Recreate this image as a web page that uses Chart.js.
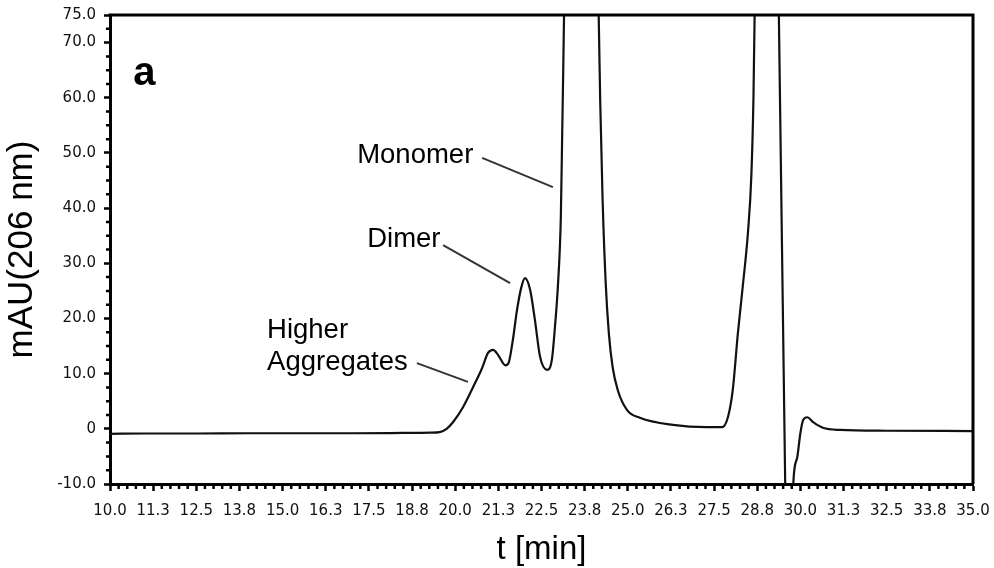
<!DOCTYPE html>
<html>
<head>
<meta charset="utf-8">
<script src="https://cdn.jsdelivr.net/npm/chart.js@4.4.0/dist/chart.umd.min.js"></script>
<style>
html,body{margin:0;padding:0;background:#fff;}
#wrap{width:994px;height:568px;position:relative;}
</style>
</head>
<body>
<div id="wrap"><canvas id="c" width="994" height="568"></canvas></div>
<script>
// ---- data ----
const timeMin = [
  10.0, 11.0, 12.5, 14.0, 15.5, 17.0, 18.5, 19.3, 19.55, 19.75,
  19.94, 20.23, 20.52, 20.78, 20.95, 21.10, 21.24, 21.46, 21.55, 21.67,
  21.79, 21.91, 22.02, 22.17, 22.31, 22.46, 22.66, 22.80, 22.89, 22.98,
  23.06, 23.10, 23.20, 23.60, 24.10, 24.20, 24.27, 24.36, 24.45, 24.56,
  24.71, 24.98, 25.35, 26.31, 27.29, 27.73, 27.90, 28.04, 28.19, 28.34,
  28.48, 28.58, 28.64, 28.72, 29.05, 29.30, 29.56, 29.66, 29.80, 29.91,
  30.00, 30.08, 30.20, 30.37, 30.65, 31.15, 32.5, 35.0
];
const mAU = [
  -0.9, -0.85, -0.85, -0.8, -0.8, -0.8, -0.75, -0.7, -0.6, 0.0,
  1.24, 3.96, 7.58, 11.03, 13.75, 14.3, 13.4, 11.5, 12.0, 16.1,
  21.5, 25.5, 27.3, 25.2, 19.7, 13.0, 10.7, 12.5, 18.5, 26.4,
  38.4, 53.6, 95, 350, 95, 59.6, 41.5, 26.4, 17.4, 11.2,
  7.0, 3.4, 2.0, 0.7, 0.3, 0.3, 2.1, 7.0, 17.4, 26.4,
  35.5, 46.0, 60.0, 95, 300, 110, -10, -40, -9.3, -5.1,
  -0.75, 1.6, 2.1, 1.2, 0.2, -0.2, -0.35, -0.4
];
const xTickValues = [10, 11.25, 12.5, 13.75, 15, 16.25, 17.5, 18.75, 20, 21.25, 22.5,
  23.75, 25, 26.25, 27.5, 28.75, 30, 31.25, 32.5, 33.75, 35];
const xTickLabels = ['10.0','11.3','12.5','13.8','15.0','16.3','17.5','18.8','20.0','21.3','22.5',
  '23.8','25.0','26.3','27.5','28.8','30.0','31.3','32.5','33.8','35.0'];
const yTickValues = [-10, 0, 10, 20, 30, 40, 50, 60, 70, 75];
const yTickLabels = ['-10.0','0','10.0','20.0','30.0','40.0','50.0','60.0','70.0','75.0'];
const peakNames = ['Monomer', 'Dimer', 'Higher', 'Aggregates'];
const panelLetter = 'a';

// annotation placement (in data units)
const notes = [
  {text: peakNames[0], t: 17.16, v: 48.2},
  {text: peakNames[1], t: 17.45, v: 33.0},
  {text: peakNames[2], t: 14.55, v: 16.5},
  {text: peakNames[3], t: 14.55, v: 10.7}
];
const leaders = [
  [[20.78, 49.1], [22.83, 43.8]],
  [[19.65, 33.3], [21.59, 26.4]],
  [[18.89, 11.9], [20.37, 8.5]]
];

const points = timeMin.map((t, i) => ({x: t, y: mAU[i]}));

const decor = {
  id: 'decor',
  afterDraw(chart) {
    const {ctx, chartArea: a, scales: {x, y}} = chart;
    ctx.save();
    // frame top & right
    ctx.strokeStyle = '#000';
    ctx.lineWidth = 3;
    ctx.beginPath();
    ctx.moveTo(a.left - 1.5, a.top);
    ctx.lineTo(a.right, a.top);
    ctx.lineTo(a.right, a.bottom);
    ctx.stroke();
    // minor ticks
    ctx.lineWidth = 2.5;
    ctx.beginPath();
    for (let k = 0; k <= 100; k++) {
      const t = 10 + k * 0.25;
      if (k % 5 === 0) continue;
      const px = x.getPixelForValue(t);
      ctx.moveTo(px, a.bottom);
      ctx.lineTo(px, a.bottom + 5);
    }
    for (let k = 0; k <= 34; k++) {
      const v = -10 + k * 2.5;
      if (k % 4 === 0 || v === 75) continue;
      const py = y.getPixelForValue(v);
      ctx.moveTo(a.left, py);
      ctx.lineTo(a.left - 4, py);
    }
    ctx.stroke();
    // leader lines
    ctx.strokeStyle = '#333';
    ctx.lineWidth = 2;
    leaders.forEach(([p, q]) => {
      ctx.beginPath();
      ctx.moveTo(x.getPixelForValue(p[0]), y.getPixelForValue(p[1]));
      ctx.lineTo(x.getPixelForValue(q[0]), y.getPixelForValue(q[1]));
      ctx.stroke();
    });
    // labels
    ctx.fillStyle = '#000';
    ctx.textAlign = 'left';
    ctx.textBaseline = 'alphabetic';
    ctx.font = '27.5px "Liberation Sans", Arial, sans-serif';
    notes.forEach(n => {
      ctx.fillText(n.text, x.getPixelForValue(n.t), y.getPixelForValue(n.v));
    });
    ctx.font = 'bold 40px "Liberation Sans", Arial, sans-serif';
    ctx.fillText(panelLetter, x.getPixelForValue(10.67), y.getPixelForValue(62.3));
    ctx.restore();
  }
};

new Chart(document.getElementById('c'), {
  type: 'line',
  data: {
    datasets: [{
      data: points,
      borderColor: '#111',
      borderWidth: 2.2,
      pointRadius: 0,
      fill: false,
      cubicInterpolationMode: 'monotone'
    }]
  },
  options: {
    responsive: false,
    animation: false,
    events: [],
    layout: {padding: {left: 0, top: 15, right: 21, bottom: 0}},
    plugins: {legend: {display: false}, tooltip: {enabled: false}},
    scales: {
      x: {
        type: 'linear',
        min: 10, max: 35,
        afterBuildTicks: s => { s.ticks = xTickValues.map(v => ({value: v})); },
        afterFit: s => { s.height = 84; s.paddingLeft = 0; s.paddingRight = 0; },
        ticks: {
          autoSkip: false, maxRotation: 0, minRotation: 0,
          padding: 11,
          color: '#111',
          font: {family: '"DejaVu Sans", sans-serif', size: 15},
          callback: (val, i) => xTickLabels[i]
        },
        grid: {display: true, drawOnChartArea: false, drawTicks: true, tickLength: 7, tickWidth: 2.5, tickColor: '#000'},
        border: {display: true, width: 3, color: '#000'},
        title: {
          display: true, text: 't [min]', color: '#000',
          font: {family: '"Liberation Sans", Arial, sans-serif', size: 33, lineHeight: 1.1},
          padding: {top: 0, bottom: 0}
        }
      },
      y: {
        type: 'linear',
        min: -10, max: 75,
        afterBuildTicks: s => { s.ticks = yTickValues.map(v => ({value: v})); },
        afterFit: s => { s.width = 110; s.paddingTop = 0; s.paddingBottom = 0; },
        ticks: {
          autoSkip: false,
          padding: 8,
          color: '#111',
          font: {family: '"DejaVu Sans", sans-serif', size: 15},
          callback: (val, i) => yTickLabels[i]
        },
        grid: {display: true, drawOnChartArea: false, drawTicks: true, tickLength: 6, tickWidth: 2.5, tickColor: '#000'},
        border: {display: true, width: 3, color: '#000'},
        title: {
          display: true, text: 'mAU(206 nm)', color: '#000',
          font: {family: '"Liberation Sans", Arial, sans-serif', size: 35, lineHeight: 1.2},
          padding: {top: 1, bottom: 0}
        }
      }
    }
  },
  plugins: [decor]
});
</script>
</body>
</html>
